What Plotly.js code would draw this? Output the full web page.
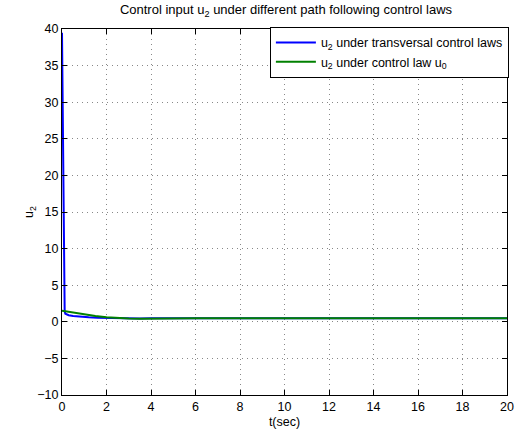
<!DOCTYPE html>
<html>
<head>
<meta charset="utf-8">
<script src="https://cdn.plot.ly/plotly-3.0.1.min.js"></script>
<style>html,body{margin:0;padding:0;background:#fff}#chart{width:520px;height:434px}</style>
</head>
<body>
<div id="chart"></div>
<script>
// Data
var tBlue = [0, 0.03, 0.06, 0.09, 0.12, 0.15, 0.2, 0.3, 0.5, 0.8, 1.2, 1.6, 2.0, 2.5, 3.0, 3.5, 4.0, 5.0, 6.0, 8.0, 10, 12, 14, 16, 18, 20];
var uBlue = [39.5, 28, 14, 4.5, 1.4, 1.1, 1.0, 0.9, 0.8, 0.7, 0.62, 0.56, 0.52, 0.48, 0.46, 0.46, 0.47, 0.49, 0.5, 0.5, 0.5, 0.5, 0.5, 0.5, 0.5, 0.5];
var tGreen = [0, 0.3, 0.6, 1.0, 1.5, 2.0, 2.5, 3.0, 3.5, 4.0, 5.0, 6.0, 8.0, 10, 12, 14, 16, 18, 20];
var uGreen = [1.5, 1.35, 1.18, 0.98, 0.78, 0.62, 0.5, 0.44, 0.42, 0.44, 0.48, 0.5, 0.5, 0.5, 0.5, 0.5, 0.5, 0.5, 0.5];
var nameBlue = "u<sub>2</sub> under transversal control laws";
var nameGreen = "u<sub>2</sub> under control law u<sub>0</sub>";
var xTicks = [0, 2, 4, 6, 8, 10, 12, 14, 16, 18, 20];
var yTicks = [-10, -5, 0, 5, 10, 15, 20, 25, 30, 35, 40];

var traces = [
  {x: tBlue, y: uBlue, name: nameBlue, mode: "lines", line: {color: "#0000ff", width: 2}},
  {x: tGreen, y: uGreen, name: nameGreen, mode: "lines", line: {color: "#008000", width: 2}}
];
var axisCommon = {
  showline: true, linecolor: "#000", linewidth: 1, mirror: "ticks",
  ticks: "inside", ticklen: 5, tickcolor: "#000",
  showgrid: true, gridcolor: "#888", griddash: "1px,4px", gridwidth: 1,
  zeroline: false, tickfont: {size: 12.5, color: "#000"}
};
var layout = {
  width: 520, height: 434,
  margin: {l: 62, r: 12, t: 29, b: 39},
  paper_bgcolor: "#fff", plot_bgcolor: "#fff",
  font: {family: "Liberation Sans, Arial, sans-serif", size: 12, color: "#000"},
  title: {text: "Control input u<sub>2</sub> under different path following control laws", x: 0.55, xanchor: "center", y: 0.988, yanchor: "top", font: {size: 13}},
  xaxis: Object.assign({}, axisCommon, {range: [0, 20], tickvals: xTicks, ticktext: xTicks.map(String),
    title: {text: "t(sec)", standoff: 4, font: {size: 12.5}}}),
  yaxis: Object.assign({}, axisCommon, {range: [-10, 40], tickvals: yTicks, ticktext: yTicks.map(function(v){return v < 0 ? "\u2212" + Math.abs(v) : String(v);}),
    title: {text: "u<sub>2</sub>", standoff: 0, font: {size: 12.5}}}),
  showlegend: true,
  legend: {x: 1.002, xanchor: "right", y: 1.006, yanchor: "top", bordercolor: "#000", borderwidth: 1, bgcolor: "#fff",
    font: {size: 12.5}, tracegroupgap: 0, itemwidth: 40}
};
Plotly.newPlot("chart", traces, layout, {displayModeBar: false, staticPlot: true});
</script>
</body>
</html>
